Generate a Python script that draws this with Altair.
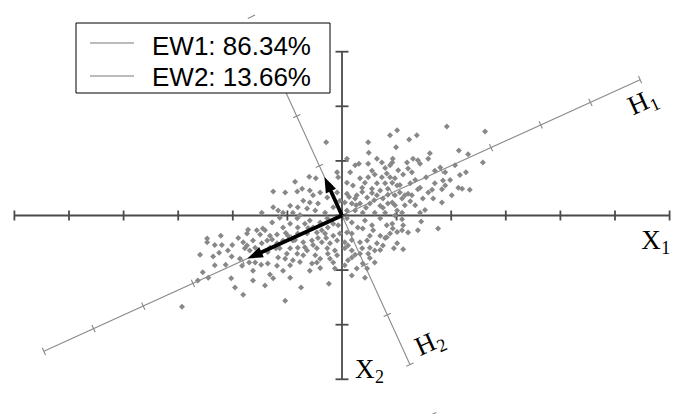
import altair as alt
import numpy as np
import pandas as pd

# ---------------- data (units: one tick = 1) ----------------
pts_u = [1.01, 0.88, 1.23, 1.37, 1.92, 2.62, 0.99, 1.61, 1.58, 2.14, 2.31, 2.58, 0.93, 0.92, 1.19, 1.30, 1.39, 1.43, 1.21, 1.28,
         1.80, 1.89, 2.27, 1.12, 0.97, 0.88, 1.54, 0.92, 1.01, 1.43, 1.70, 1.85, 1.89, 2.13, 2.20, 1.83, 1.39, 1.06, 1.15, 1.21,
         1.28, 0.97, 1.10, 1.48, 1.67, 1.83, 0.92, 1.25, 1.01, 1.10, 1.43, 0.92, 1.10, 1.12, 1.45, 0.93, 1.01, 1.10, 1.21, 1.39,
         1.76, 0.88, 1.01, 0.95, 1.12, -1.28, -1.14, -1.72, -1.56, -1.41, -1.74, -1.50, -1.32, -1.19, -2.47, -2.47, -2.22, -1.81, -1.74, -1.63,
         -1.47, -1.37, -1.28, -1.19, -1.59, -1.69, -1.32, -2.25, -2.09, -2.36, -2.02, -1.87, -1.17, -1.70, -1.59, -1.48, -1.36, -1.19, -2.13, -1.83,
         -1.63, -2.55, -2.45, -1.32, -1.26, -2.03, -1.63, -2.64, -1.96, -1.81, -2.93, -1.08, -0.95, -0.82, -0.81, -0.68, -0.59, -0.53, -0.40, -0.27,
         -0.26, -0.16, 0.09, 0.18, 0.29, 0.42, 0.55, 0.70, 0.82, 0.38, 0.57, 0.09, 0.18, 0.51, 0.70, 0.82, -0.99, -0.81, -0.64, -0.46,
         -0.31, -0.16, -0.04, -1.08, -0.90, -0.71, -0.55, -0.37, -0.22, -0.09, 0.05, 0.11, 0.18, 0.33, 0.46, 0.64, 0.75, -1.14, -0.95, -0.81,
         -0.64, -0.46, -0.27, -0.13, 0.05, 0.18, 0.37, 0.51, 0.60, 0.33, 0.48, -1.01, -0.82, -0.71, -0.49, -0.26, -0.09, 0.18, -1.04, -0.90,
         -0.40, -0.22, -0.55, -0.46, -0.16, 0.11, 0.38, 0.46, -0.13, 0.18, 0.42, -0.95, -0.24, -0.75, -0.29, 0.48, 0.49, 0.09, 0.31, 0.48,
         0.64, 0.73, 0.88, -0.60, -0.48, -0.86, -1.04, -0.82, -0.09, -0.07, 0.15, 0.33, 0.48, 0.60, 0.73, 0.82, 0.42, 0.64, 0.79, 0.09,
         0.20, 0.37, 0.55, 0.70, 0.84, -0.59, -0.53, -0.40, -0.27, -0.09, 0.09, 0.27, 0.46, 0.64, 0.75, -0.71, -0.59, -0.44, 0.05, 0.18,
         0.33, 0.51, 0.70, 0.84, -0.95, -0.81, -0.64, -0.49, 0.09, 0.24, 0.38, 0.60, 0.79, -1.08, -0.90, -1.26, -1.47, -1.17, -1.26, -1.45,
         -0.31, -0.16, -0.07, -0.37, 0.24, -0.04, -0.22, 0.55, 0.24, -0.73, 0.97, 1.25, 1.58, 2.01, 1.70, 2.07, 0.60, 0.27, -0.59, -1.08,
         -1.41, -1.04,
         0.26, 0.44, 0.59, 0.75, 0.13, 0.37, 0.55, 0.84, 0.97, 1.06, 0.79, 1.03, 1.34, 1.15, 1.34, 1.52, 1.65, 1.98, 2.34, 2.16,
         -0.77, -0.62, -0.44, -0.29, -0.86, -0.68, -0.53, -1.03, -1.21, -1.36, -1.50, -1.78, -1.90, -2.01, -2.20, -2.33, -2.60, -2.33,
         -0.95, -0.77, -0.40, 0.05, 0.24, 0.51, 0.70, 0.79]
pts_v = [1.56, 1.47, 1.39, 1.47, 1.63, 1.54, 1.25, 1.14, 1.04, 1.19, 1.12, 0.97, 1.04, 0.97, 0.97, 1.04, 1.01, 0.95, 0.86, 0.79,
         0.88, 0.79, 0.79, 0.75, 0.68, 0.70, 0.70, 0.60, 0.55, 0.51, 0.59, 0.64, 0.55, 0.51, 0.49, 0.48, 0.48, 0.42, 0.37, 0.40,
         0.37, 0.37, 0.31, 0.31, 0.31, 0.24, 0.24, 0.26, 0.09, 0.05, 0.05, -0.15, -0.07, -0.18, -0.11, -0.24, -0.30, -0.27, -0.31, -0.27,
         -0.24, -0.33, -0.51, -0.60, -0.62, -0.13, -0.04, -0.26, -0.27, -0.27, -0.33, -0.35, -0.37, -0.35, -0.42, -0.49, -0.37, -0.49, -0.55, -0.46,
         -0.51, -0.46, -0.44, -0.51, -0.59, -0.64, -0.59, -0.68, -0.64, -0.75, -0.75, -0.79, -0.77, -0.86, -0.86, -0.90, -0.88, -0.92, -0.90, -0.92,
         -1.01, -1.04, -1.14, -1.08, -1.15, -1.15, -1.19, -1.19, -1.32, -1.45, -1.67, -0.22, -0.15, -0.05, -0.22, -0.15, -0.09, -0.22, -0.13, -0.05,
         -0.22, -0.15, -0.05, -0.13, -0.22, -0.09, -0.18, -0.05, -0.18, -0.24, -0.27, -0.31, -0.33, -0.37, -0.37, -0.40, -0.37, -0.33, -0.33, -0.31,
         -0.33, -0.37, -0.33, -0.46, -0.46, -0.49, -0.46, -0.49, -0.51, -0.46, -0.49, -0.55, -0.45, -0.49, -0.46, -0.51, -0.55, -0.60, -0.60, -0.59,
         -0.64, -0.60, -0.60, -0.64, -0.60, -0.64, -0.60, -0.59, -0.64, -0.70, -0.70, -0.70, -0.70, -0.73, -0.73, -0.70, -0.73, -0.77, -0.79, -0.82,
         -0.79, -0.79, -0.88, -0.86, -0.86, -0.82, -0.88, -0.97, -0.97, -1.10, -1.14, -1.14, -1.25, -1.32, 1.34, 1.34, 1.15, 1.04, 0.95, 0.95,
         1.04, 0.97, 0.92, 0.71, 0.68, 0.62, 0.42, 0.44, 0.79, 0.70, 0.79, 0.68, 0.70, 0.75, 0.70, 0.77, 0.60, 0.59, 0.59, 0.60,
         0.55, 0.51, 0.49, 0.46, 0.49, 0.46, 0.37, 0.42, 0.33, 0.42, 0.40, 0.37, 0.33, 0.37, 0.31, 0.27, 0.24, 0.22, 0.24, 0.22,
         0.22, 0.22, 0.18, 0.22, 0.18, 0.15, 0.13, 0.09, 0.09, 0.09, 0.05, 0.05, 0.05, 0.05, 0.05, 0.44, 0.05, 0.09, 0.15, -0.24,
         0.05, 0.15, -0.18, -0.27, 0.31, 0.27, 0.55, 0.82, 0.92, 0.49, 0.00, 0.59, 0.42, 0.37, 0.82, 0.92, -0.86, -0.97, -1.01, -1.01,
         -1.28, -1.56,
         0.19, 0.14, 0.28, 0.14, 0.34, 0.43, 0.41, 0.38, 0.19, 0.56, 0.87, 0.83, 0.65, 0.19, 0.19, 0.10, 0.47, 0.65, 0.47, 0.74,
         0.01, -0.23, -0.41, -0.41, -0.45, -0.58, -0.54, -0.32, -0.60, -0.67, -0.72, -0.60, -0.41, -0.54, -0.54, -0.54, -0.72, -0.91,
         -0.91, -0.85, -0.96, -0.91, -0.72, -0.78, -0.63, -0.41]

x_ticks = list(range(-6, 7))    # X1 axis
y_ticks = list(range(-3, 4))    # X2 axis
h1_ticks = list(range(-6, 7))   # H1 axis
h2_ticks = list(range(-3, 4))   # H2 axis
h2_outer_ticks = [-4, 4]
pc_angle_deg = 24.5             # angle of H1 against X1
ew_names = ["EW1", "EW2"]
ew_share = [86.34, 13.66]
ew_arrow_len = [1.9, 0.77]

# ---------------- layout ----------------
W, H = 676, 414
PX = 54.6            # pixels per unit
OX, OY = 342, 215.5  # pixel position of the origin
xdom = [-OX / PX, (W - OX) / PX]
ydom = [(OY - H) / PX, OY / PX]
xs = alt.Scale(domain=xdom, nice=False, zero=False)
ys = alt.Scale(domain=ydom, nice=False, zero=False)

th = np.radians(pc_angle_deg)
d1 = np.array([np.cos(th), np.sin(th)])
d2 = np.array([-np.sin(th), np.cos(th)])

def seg_rows(rows, p, q):
    rows.append(dict(x=float(p[0]), y=float(p[1]), x2=float(q[0]), y2=float(q[1])))

axis_rows = []
seg_rows(axis_rows, (x_ticks[0], 0), (x_ticks[-1], 0))
seg_rows(axis_rows, (0, y_ticks[0]), (0, y_ticks[-1]))
for t in x_ticks:
    seg_rows(axis_rows, (t, -5 / PX), (t, 5 / PX))
for t in y_ticks:
    seg_rows(axis_rows, (-6.5 / PX, t), (6.5 / PX, t))
axis_df = pd.DataFrame(axis_rows)

h_rows = []
seg_rows(h_rows, h1_ticks[0] * d1, h1_ticks[-1] * d1)
seg_rows(h_rows, h2_ticks[0] * d2, h2_ticks[-1] * d2)
for t in h1_ticks:
    seg_rows(h_rows, t * d1 - 4 / PX * d2, t * d1 + 4 / PX * d2)
for t in h2_ticks + h2_outer_ticks:
    seg_rows(h_rows, t * d2 - 4 / PX * d1, t * d2 + 4 / PX * d1)
h_df = pd.DataFrame(h_rows)

pts_df = pd.DataFrame({"u": pts_u, "v": pts_v})

# arrows
dirs = [-d1, d2]
shaft_rows, head_rows = [], []
for L, dv in zip(ew_arrow_len, dirs):
    tip = L * dv
    seg_rows(shaft_rows, (0, 0), tip - 11 / PX * dv)
    c = tip - 7.5 / PX * dv
    ang = np.degrees(np.arctan2(dv[0], dv[1])) % 360
    head_rows.append(dict(x=float(c[0]), y=float(c[1]), ang=float(ang)))
shaft_df = pd.DataFrame(shaft_rows)
head_df = pd.DataFrame(head_rows)

# axis labels
lab_df = pd.DataFrame({
    "main": ["H", "H", "X", "X"],
    "sub": ["1", "2", "1", "2"],
    "x": [5.33, 1.43, 5.48, 0.24],
    "y": [1.83, -2.58, -0.62, -2.97],
    "ang": [335.5, 335.5, 0, 0],
})

base_x = alt.X("x:Q", scale=xs, axis=None)
base_y = alt.Y("y:Q", scale=ys, axis=None)

h_layer = alt.Chart(h_df).mark_rule(color="#8a8a8a", strokeWidth=1.1).encode(
    x=base_x, y=base_y, x2="x2:Q", y2="y2:Q")
axis_layer = alt.Chart(axis_df).mark_rule(color="#4a4a4a", strokeWidth=1.8).encode(
    x=base_x, y=base_y, x2="x2:Q", y2="y2:Q")
pts_layer = alt.Chart(pts_df).mark_point(filled=True, shape="diamond", size=36, color="#888888", opacity=1).encode(
    x=alt.X("u:Q", scale=xs, axis=None), y=alt.Y("v:Q", scale=ys, axis=None))
shaft_layer = alt.Chart(shaft_df).mark_rule(color="black", strokeWidth=3.8).encode(
    x=base_x, y=base_y, x2="x2:Q", y2="y2:Q")
head_layer = alt.Chart(head_df).mark_point(filled=True, shape="M0,-1L-0.72,1L0.72,1Z", size=240, color="black", opacity=1).encode(
    x=base_x, y=base_y, angle=alt.Angle("ang:Q", scale=None))
lab_main = alt.Chart(lab_df).mark_text(font="Liberation Serif", fontSize=27, align="left", baseline="alphabetic", color="black").encode(
    x=base_x, y=base_y, text="main:N", angle=alt.Angle("ang:Q", scale=None))
lab_sub = alt.Chart(lab_df).mark_text(font="Liberation Serif", fontSize=18, align="left", baseline="alphabetic", color="black", dx=20, dy=5).encode(
    x=base_x, y=base_y, text="sub:N", angle=alt.Angle("ang:Q", scale=None))

# legend box (drawn by hand in pixel space)
leg_df = pd.DataFrame({
    "label": [f"{n}: {s:.2f}%" for n, s in zip(ew_names, ew_share)],
    "ly": [43 + 33 * i for i in range(len(ew_names))],
    "ty": [55 + 31 * i for i in range(len(ew_names))],
})
leg_box = alt.Chart(pd.DataFrame({"k": [0]})).mark_rect(fill="white", stroke="black", strokeWidth=1).encode(
    x=alt.value(76), x2=alt.value(330), y=alt.value(23), y2=alt.value(93))
leg_lines = alt.Chart(leg_df).mark_rule(color="#7a7a7a", strokeWidth=1.1).encode(
    x=alt.value(90), x2=alt.value(134), y=alt.Y("ly:Q", scale=None))
leg_text = alt.Chart(leg_df).mark_text(font="Liberation Sans", fontSize=26, align="left", baseline="alphabetic", color="black").encode(
    x=alt.value(152), y=alt.Y("ty:Q", scale=None), text="label:N")

chart = alt.layer(
    h_layer, axis_layer, pts_layer, shaft_layer, head_layer, lab_main, lab_sub,
    leg_box, leg_lines, leg_text
).properties(
    width=W, height=H, autosize=alt.AutoSizeParams(type="none"), padding=0,
    background="white"
).configure_view(stroke=None)

chart.save("out.html", embed_options={"renderer": "svg", "actions": False})
